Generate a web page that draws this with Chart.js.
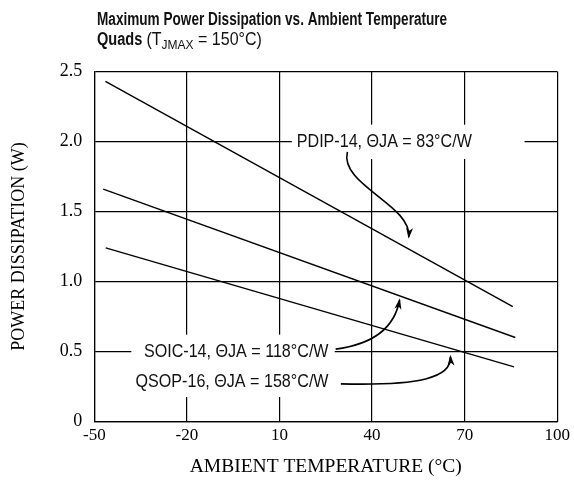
<!DOCTYPE html>
<html>
<head>
<meta charset="utf-8">
<script src="https://cdn.jsdelivr.net/npm/chart.js@4"></script>
<style>
  html,body{margin:0;padding:0;background:#fff;}
  #wrap{position:relative;width:574px;height:483px;}
</style>
</head>
<body>
<div id="wrap"><canvas id="c" width="574" height="483"></canvas></div>
<script>
// ---- data ----
const pdipTemp = [-46.4, 85.6];
const pdipPower = [2.43, 0.82];
const soicTemp = [-47.1, 86.4];
const soicPower = [1.66, 0.60];
const qsopTemp = [-46.3, 86.0];
const qsopPower = [1.24, 0.39];
const xTickValues = [-50, -20, 10, 40, 70, 100];
const yTickValues = [0, 0.5, 1.0, 1.5, 2.0, 2.5];
const yTickLabels = ['0', '0.5', '1.0', '1.5', '2.0', '2.5'];
const seriesLabels = ['PDIP-14, \u0398JA = 83\u00B0C/W', 'SOIC-14, \u0398JA = 118\u00B0C/W', 'QSOP-16, \u0398JA = 158\u00B0C/W'];
const titleLine1 = 'Maximum Power Dissipation vs. Ambient Temperature';
const xTitle = 'AMBIENT TEMPERATURE (\u00B0C)';
const yTitle = 'POWER DISSIPATION (W)';

const pts = (xs, ys) => xs.map((x, i) => ({x: x, y: ys[i]}));

const SERIF = "'Liberation Serif', 'Times New Roman', serif";
const SANS = "'Liberation Sans Narrow', 'Arial Narrow', 'Liberation Sans', Arial, sans-serif";

// annotation geometry (data units)
const annot = {
  pdipText: {x: 15.6, y: 2.0, align: 'left'},
  pdipBox: {x0: 14.0, x1: 89.4, y0: 2.12, y1: 1.875},
  pdipArrow: [[32.0, 1.926], [29.4, 1.690], [52.8, 1.548], [51.9, 1.319]],
  soicText: {x: 25.9, y: 0.5, align: 'right'},
  qsopText: {x: 25.9, y: 0.285, align: 'right'},
  lowBox: {x0: -38.0, x1: 27.9, y0: 0.620, y1: 0.175},
  soicArrow: [[28.2, 0.517], [40.8, 0.553], [47.3, 0.674], [48.9, 0.866]],
  qsopArrow: [[29.9, 0.269], [55.4, 0.255], [65.8, 0.312], [65.4, 0.462]]
};

function drawText(ctx, t, x, y, font, sx, align) {
  ctx.save();
  ctx.font = font;
  ctx.textAlign = align || 'left';
  ctx.translate(x, y);
  ctx.scale(sx, 1);
  ctx.fillText(t, 0, 0);
  const w = ctx.measureText(t).width * sx;
  ctx.restore();
  return w;
}

const decor = {
  id: 'decor',
  beforeDatasetsDraw(chart) {
    const {ctx, scales: {x, y}} = chart;
    ctx.save();
    ctx.fillStyle = '#fff';
    [annot.pdipBox, annot.lowBox].forEach(b => {
      const l = x.getPixelForValue(b.x0), r = x.getPixelForValue(b.x1);
      const t = y.getPixelForValue(b.y0), bt = y.getPixelForValue(b.y1);
      ctx.fillRect(l, t, r - l, bt - t);
    });
    ctx.restore();
  },
  afterDatasetsDraw(chart) {
    const {ctx, scales: {x, y}} = chart;
    ctx.save();
    ctx.fillStyle = '#111';
    ctx.textBaseline = 'middle';
    const txt = (t, a) => drawText(ctx, t, x.getPixelForValue(a.x), y.getPixelForValue(a.y) + 0.5,
                                   '17.5px ' + SANS, 0.92, a.align);
    txt(seriesLabels[0], annot.pdipText);
    txt(seriesLabels[1], annot.soicText);
    txt(seriesLabels[2], annot.qsopText);

    const arrow = (p) => {
      const P = p.map(q => [x.getPixelForValue(q[0]), y.getPixelForValue(q[1])]);
      ctx.beginPath();
      ctx.moveTo(P[0][0], P[0][1]);
      ctx.bezierCurveTo(P[1][0], P[1][1], P[2][0], P[2][1], P[3][0], P[3][1]);
      ctx.strokeStyle = '#000';
      ctx.lineWidth = 1.6;
      ctx.stroke();
      const ang = Math.atan2(P[3][1] - P[2][1], P[3][0] - P[2][0]);
      const L = 9, W = 3.5;
      const tx = P[3][0], ty = P[3][1];
      ctx.beginPath();
      ctx.moveTo(tx + Math.cos(ang) * 2, ty + Math.sin(ang) * 2);
      ctx.lineTo(tx - Math.cos(ang) * L + Math.sin(ang) * W, ty - Math.sin(ang) * L - Math.cos(ang) * W);
      ctx.lineTo(tx - Math.cos(ang) * (L - 3), ty - Math.sin(ang) * (L - 3));
      ctx.lineTo(tx - Math.cos(ang) * L - Math.sin(ang) * W, ty - Math.sin(ang) * L + Math.cos(ang) * W);
      ctx.closePath();
      ctx.fillStyle = '#000';
      ctx.fill();
    };
    arrow(annot.pdipArrow);
    arrow(annot.soicArrow);
    arrow(annot.qsopArrow);

    // title
    ctx.textBaseline = 'alphabetic';
    ctx.fillStyle = '#111';
    drawText(ctx, titleLine1, 97, 25, 'bold 18px ' + SANS, 0.755, 'left');
    let cx = 97;
    cx += drawText(ctx, 'Quads ', cx, 45, 'bold 18px ' + SANS, 0.81, 'left');
    cx += drawText(ctx, '(T', cx, 45, '18px ' + SANS, 0.89, 'left');
    cx += drawText(ctx, 'JMAX', cx, 49, '13.5px ' + SANS, 0.89, 'left');
    drawText(ctx, ' = 150\u00B0C)', cx, 45, '18px ' + SANS, 0.89, 'left');
    ctx.restore();
  }
};

const lineDs = (label, data) => ({
  label: label, data: data, borderColor: '#000', borderWidth: 1.4,
  pointRadius: 0, fill: false, tension: 0
});

new Chart(document.getElementById('c'), {
  type: 'line',
  data: {
    datasets: [
      lineDs(seriesLabels[0], pts(pdipTemp, pdipPower)),
      lineDs(seriesLabels[1], pts(soicTemp, soicPower)),
      lineDs(seriesLabels[2], pts(qsopTemp, qsopPower))
    ]
  },
  options: {
    responsive: false,
    animation: false,
    devicePixelRatio: 1,
    layout: {padding: {top: 71.5, right: 16, bottom: 0, left: 0}},
    plugins: {legend: {display: false}, tooltip: {enabled: false}, title: {display: false}},
    scales: {
      x: {
        type: 'linear', min: -50, max: 100,
        afterBuildTicks: s => { s.ticks = xTickValues.map(v => ({value: v})); },
        afterFit: s => { s.height = 61.5; },
        grid: {color: '#000', lineWidth: 1.2, drawTicks: false},
        border: {color: '#000', width: 1.2},
        ticks: {color: '#000', font: {family: SERIF, size: 17}, padding: 4, maxRotation: 0,
                callback: v => String(v)},
        title: {display: true, text: xTitle, color: '#000', font: {family: SERIF, size: 19.5},
                padding: {top: 0, bottom: 4.5}}
      },
      y: {
        type: 'linear', min: 0, max: 2.5,
        afterBuildTicks: s => { s.ticks = yTickValues.map(v => ({value: v})); },
        afterFit: s => { s.width = 94.3; },
        grid: {color: '#000', lineWidth: 1.2, drawTicks: false},
        border: {color: '#000', width: 1.2},
        ticks: {color: '#000', font: {family: SERIF, size: 18}, padding: 12,
                callback: v => yTickLabels[yTickValues.indexOf(v)]},
        title: {display: true, text: yTitle, color: '#000', font: {family: SERIF, size: 18},
                padding: {top: 8, bottom: 0}}
      }
    }
  },
  plugins: [decor]
});
</script>
</body>
</html>
